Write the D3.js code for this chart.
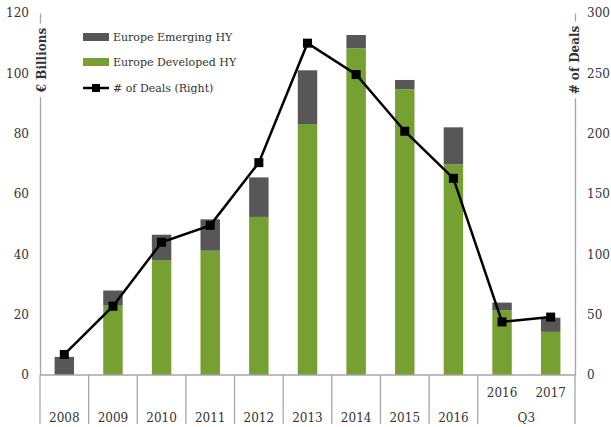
<!DOCTYPE html>
<html>
<head>
<meta charset="utf-8">
<script src="https://cdn.jsdelivr.net/npm/d3@7"></script>
<style>
  body { margin: 0; background: #fff; }
  text { font-family: "DejaVu Serif", serif; fill: #333; }
</style>
</head>
<body>
<div class="chart"></div>
<script>
var svgWidth = 611;
var svgHeight = 427;

var margin = { top: 13, right: 36, bottom: 52, left: 40 };
var width = svgWidth - margin.left - margin.right;
var height = svgHeight - margin.top - margin.bottom;

// data
var categories = ["2008", "2009", "2010", "2011", "2012", "2013", "2014", "2015", "2016", "Q3 2016", "Q3 2017"];
var topLabels = ["", "", "", "", "", "", "", "", "", "2016", "2017"];
var bottomLabels = ["2008", "2009", "2010", "2011", "2012", "2013", "2014", "2015", "2016"];
var developedHY = [0, 23, 38.1, 41.2, 52.4, 83.2, 108.3, 94.7, 69.8, 21.5, 14.3];
var emergingHY = [6, 5, 8.4, 10.4, 13.1, 17.8, 4.4, 3.1, 12.3, 2.5, 4.7];
var deals = [17, 57, 110, 124, 176, 275, 249, 202, 163, 44, 48];
var leftTicks = [0, 20, 40, 60, 80, 100, 120];
var rightTicks = [0, 50, 100, 150, 200, 250, 300];

var green = "#76a032";
var grey = "#575757";
var axisColor = "#a6a6a6";

var svg = d3.select(".chart")
  .append("svg")
  .attr("width", svgWidth)
  .attr("height", svgHeight);

var chartGroup = svg.append("g")
  .attr("transform", `translate(${margin.left}, ${margin.top})`);

var xScale = d3.scaleBand().domain(categories).range([0, width]).padding(0);
var yLeft = d3.scaleLinear().domain([0, 120]).range([height, 0]);
var yRight = d3.scaleLinear().domain([0, 300]).range([height, 0]);
var barWidth = xScale.bandwidth() * 0.4;

var data = categories.map(function (c, i) {
  return { cat: c, dev: developedHY[i], emg: emergingHY[i], deals: deals[i] };
});

// bars
chartGroup.selectAll(".dev")
  .data(data)
  .enter()
  .append("rect")
  .attr("class", "dev")
  .attr("x", d => xScale(d.cat) + (xScale.bandwidth() - barWidth) / 2)
  .attr("y", d => yLeft(d.dev))
  .attr("width", barWidth)
  .attr("height", d => height - yLeft(d.dev))
  .attr("fill", green);

chartGroup.selectAll(".emg")
  .data(data)
  .enter()
  .append("rect")
  .attr("class", "emg")
  .attr("x", d => xScale(d.cat) + (xScale.bandwidth() - barWidth) / 2)
  .attr("y", d => yLeft(d.dev + d.emg))
  .attr("width", barWidth)
  .attr("height", d => yLeft(d.dev) - yLeft(d.dev + d.emg))
  .attr("fill", grey);

// left axis
var leftAxis = d3.axisLeft(yLeft).tickValues(leftTicks).tickSize(0).tickPadding(11);
var yAxisL = chartGroup.append("g").call(leftAxis);
yAxisL.select(".domain").attr("stroke", axisColor).attr("stroke-width", 1.3);
yAxisL.selectAll("text").style("font-size", "12px").attr("fill", "#333").style("font-family", "DejaVu Serif");

// right axis
var rightAxis = d3.axisRight(yRight).tickValues(rightTicks).tickSize(0).tickPadding(12);
var yAxisR = chartGroup.append("g")
  .attr("transform", `translate(${width}, 0)`)
  .call(rightAxis);
yAxisR.select(".domain").attr("stroke", axisColor).attr("stroke-width", 1.3);
yAxisR.selectAll("text").style("font-size", "12px").attr("fill", "#333").style("font-family", "DejaVu Serif");

// x axis baseline + category dividers
chartGroup.append("line")
  .attr("x1", 0).attr("x2", width)
  .attr("y1", height).attr("y2", height)
  .attr("stroke", axisColor).attr("stroke-width", 1.3);

var dividers = categories.slice(0, 10).map(c => xScale(c)).concat([width]);
chartGroup.selectAll(".divider")
  .data(dividers)
  .enter()
  .append("line")
  .attr("class", "divider")
  .attr("x1", d => d).attr("x2", d => d)
  .attr("y1", height).attr("y2", height + 49)
  .attr("stroke", axisColor).attr("stroke-width", 1.3);

// x labels
chartGroup.selectAll(".xtop")
  .data(categories)
  .enter()
  .append("text")
  .attr("class", "xtop")
  .attr("x", d => xScale(d) + xScale.bandwidth() / 2)
  .attr("y", height + 22)
  .attr("text-anchor", "middle")
  .style("font-size", "12px")
  .text((d, i) => topLabels[i]);

chartGroup.selectAll(".xbottom")
  .data(bottomLabels)
  .enter()
  .append("text")
  .attr("class", "xbottom")
  .attr("x", d => xScale(d) + xScale.bandwidth() / 2)
  .attr("y", height + 47)
  .attr("text-anchor", "middle")
  .style("font-size", "12px")
  .text(d => d);

chartGroup.append("text")
  .attr("x", xScale("Q3 2017"))
  .attr("y", height + 47)
  .attr("text-anchor", "middle")
  .style("font-size", "12px")
  .text("Q3");

// line for # of deals
var line = d3.line()
  .x(d => xScale(d.cat) + xScale.bandwidth() / 2)
  .y(d => yRight(d.deals));

chartGroup.append("path")
  .datum(data)
  .attr("d", line)
  .attr("fill", "none")
  .attr("stroke", "#000")
  .attr("stroke-width", 2.5);

chartGroup.selectAll(".marker")
  .data(data)
  .enter()
  .append("rect")
  .attr("class", "marker")
  .attr("x", d => xScale(d.cat) + xScale.bandwidth() / 2 - 4.5)
  .attr("y", d => yRight(d.deals) - 4.5)
  .attr("width", 9)
  .attr("height", 9)
  .attr("fill", "#000");

// axis titles (sit on top of the axis lines with a white backing)
function axisTitle(x, label) {
  var g = chartGroup.append("g")
    .attr("transform", `translate(${x}, 47) rotate(-90)`);
  var t = g.append("text")
    .attr("text-anchor", "middle")
    .attr("dy", "0.35em")
    .style("font-size", "12px")
    .style("font-weight", "bold")
    .text(label);
  var bb = t.node().getBBox();
  g.insert("rect", "text")
    .attr("x", bb.x - 4).attr("y", bb.y)
    .attr("width", bb.width + 8).attr("height", bb.height)
    .attr("fill", "#fff");
}
axisTitle(2, "€ Billions");
axisTitle(width, "# of Deals");

// legend
var legend = chartGroup.append("g").attr("transform", "translate(43, 24)");
var legendItems = ["Europe Emerging HY", "Europe Developed HY", "# of Deals (Right)"];

legend.append("rect").attr("x", 0).attr("y", -4).attr("width", 26).attr("height", 8).attr("fill", grey);
legend.append("rect").attr("x", 0).attr("y", 21).attr("width", 26).attr("height", 8).attr("fill", green);
legend.append("line").attr("x1", 0).attr("x2", 26).attr("y1", 51).attr("y2", 51)
  .attr("stroke", "#000").attr("stroke-width", 2.5);
legend.append("rect").attr("x", 9).attr("y", 47).attr("width", 8).attr("height", 8).attr("fill", "#000");

legend.selectAll(".legend-text")
  .data(legendItems)
  .enter()
  .append("text")
  .attr("class", "legend-text")
  .attr("x", 30)
  .attr("y", (d, i) => i * 25.5)
  .attr("dy", "0.35em")
  .style("font-size", "11px")
  .text(d => d);
</script>
</body>
</html>
